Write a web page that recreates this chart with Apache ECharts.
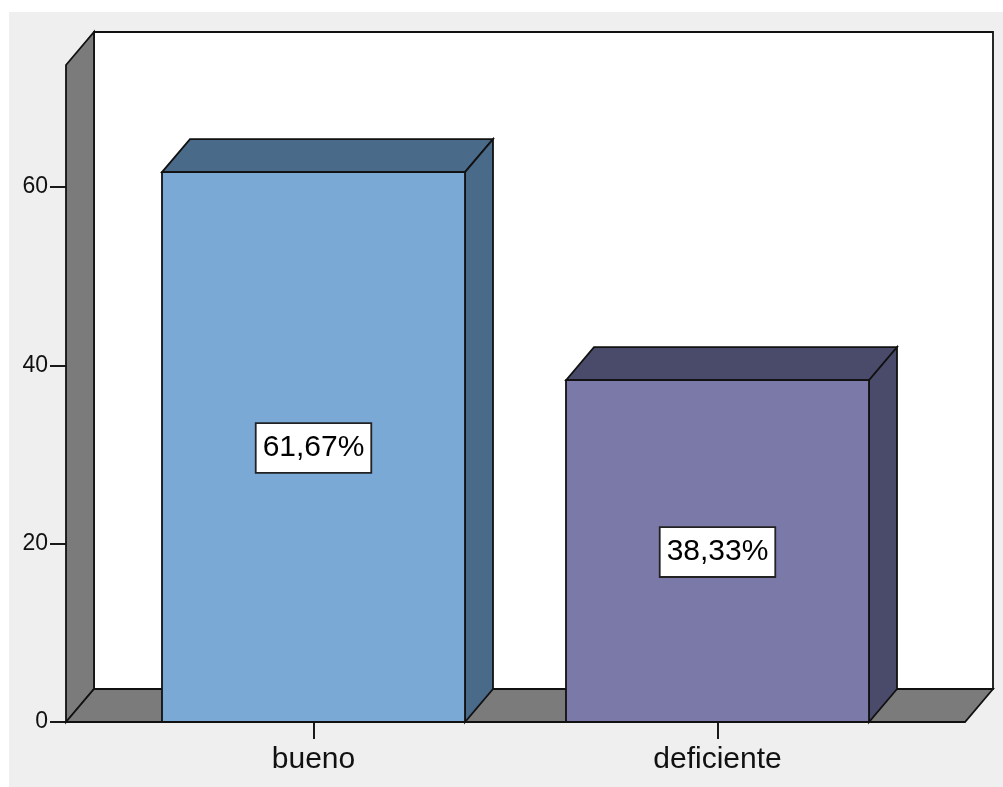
<!DOCTYPE html>
<html>
<head>
<meta charset="utf-8">
<script src="https://cdn.jsdelivr.net/npm/echarts@6/dist/echarts.min.js"></script>
<style>
  html, body { margin: 0; padding: 0; background: #ffffff; }
  #chart { width: 1003px; height: 787px; }
</style>
</head>
<body>
<div id="chart"></div>
<script>
// Categories and their percentages
const categories = ['bueno', 'deficiente'];
const percentages = [61.67, 38.33];
const yTicks = [0, 20, 40, 60];
const yMax = 73.68;

// Face colours per bar: front face, darker top/side faces
const frontColors = ['#7BA9D6', '#7A79A8'];
const shadeColors = ['#4A6A8A', '#4A4A6A'];

const FONT = '"Liberation Sans", Arial, sans-serif';
const EDGE = '#111111';
const WALL = '#7B7B7B';
// Depth offset of the 3D extrusion (pixels)
const DX = 28, DY = -33;
// Distance from the category band edges to the frame edges
const SIDE = 45.5;

const chart = echarts.init(document.getElementById('chart'), null, { renderer: 'canvas' });

function renderFrame(params, api) {
  const cs = params.coordSys;
  const L = cs.x - SIDE, R = cs.x + cs.width + SIDE;
  const T = api.coord([0, yMax])[1];
  const B = api.coord([0, 0])[1];
  const lineStyle = { stroke: EDGE, lineWidth: 1.8 };
  return {
    type: 'group',
    children: [
      { type: 'rect', shape: { x: L + DX, y: T + DY, width: R - L, height: B - T },
        style: Object.assign({ fill: '#ffffff' }, lineStyle) },
      { type: 'polygon', shape: { points: [[L, T], [L + DX, T + DY], [L + DX, B + DY], [L, B]] },
        style: Object.assign({ fill: WALL }, lineStyle) },
      { type: 'polygon', shape: { points: [[L, B], [R, B], [R + DX, B + DY], [L + DX, B + DY]] },
        style: Object.assign({ fill: WALL }, lineStyle) }
    ]
  };
}

function renderBar(params, api) {
  const i = params.dataIndex;
  const v = api.value(1);
  const top = api.coord([api.value(0), v]);
  const base = api.coord([api.value(0), 0]);
  const w = api.size([1, 0])[0] * 0.75;
  const x0 = top[0] - w / 2, x1 = top[0] + w / 2;
  const y0 = top[1], y1 = base[1];
  const lineStyle = { stroke: EDGE, lineWidth: 1.8 };
  const label = v.toFixed(2).replace('.', ',') + '%';
  return {
    type: 'group',
    children: [
      { type: 'polygon', shape: { points: [[x0, y0], [x0 + DX, y0 + DY], [x1 + DX, y0 + DY], [x1, y0]] },
        style: Object.assign({ fill: shadeColors[i] }, lineStyle) },
      { type: 'polygon', shape: { points: [[x1, y0], [x1 + DX, y0 + DY], [x1 + DX, y1 + DY], [x1, y1]] },
        style: Object.assign({ fill: shadeColors[i] }, lineStyle) },
      { type: 'rect', shape: { x: x0, y: y0, width: w, height: y1 - y0 },
        style: Object.assign({ fill: frontColors[i] }, lineStyle) },
      { type: 'text', x: top[0], y: (y0 + y1) / 2 + 1,
        style: {
          text: label, fontSize: 30, fontFamily: FONT, fill: '#000000',
          align: 'center', verticalAlign: 'middle',
          backgroundColor: '#ffffff', borderColor: '#222222', borderWidth: 1.8,
          padding: [9, 6, 9, 6]
        } }
    ]
  };
}

const option = {
  backgroundColor: '#ffffff',
  animation: false,
  graphic: [
    { type: 'rect', z: -10, silent: true,
      shape: { x: 9, y: 12, width: 1003 - 9, height: 787 - 12 },
      style: { fill: '#EFEFEF' } }
  ],
  grid: { left: 111.5, right: 83.5, top: 65, bottom: 65, containLabel: false },
  xAxis: {
    type: 'category',
    data: categories,
    axisLine: { show: false },
    axisTick: { show: true, alignWithLabel: true, length: 17, lineStyle: { color: '#000', width: 1.8 } },
    axisLabel: { fontSize: 30, fontFamily: FONT, color: '#111', margin: 23 },
    splitLine: { show: false }
  },
  yAxis: {
    type: 'value',
    min: 0,
    max: yMax,
    interval: 20,
    offset: SIDE,
    axisLine: { show: false },
    axisTick: { show: true, length: 16, customValues: yTicks, lineStyle: { color: '#000', width: 1.8 } },
    axisLabel: { fontSize: 23, fontFamily: FONT, color: '#111', margin: 18, customValues: yTicks },
    splitLine: { show: false }
  },
  series: [
    {
      type: 'custom',
      z: 1,
      clip: false,
      renderItem: renderFrame,
      data: [[0, 0]]
    },
    {
      type: 'custom',
      z: 2,
      clip: false,
      renderItem: renderBar,
      data: categories.map((c, i) => [i, percentages[i]])
    }
  ]
};

chart.setOption(option);
</script>
</body>
</html>
